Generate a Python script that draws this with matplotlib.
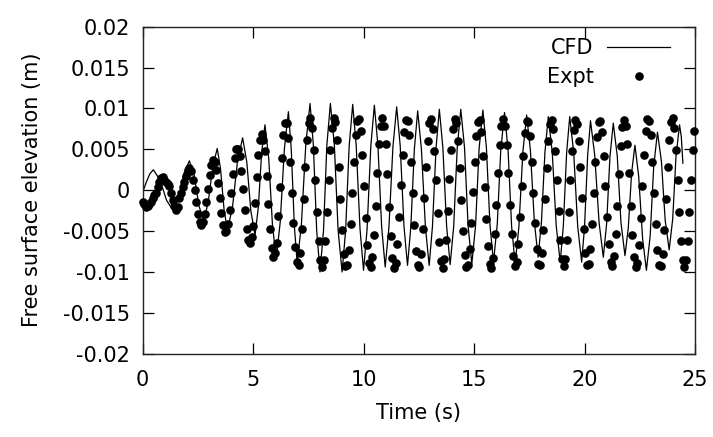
import matplotlib
matplotlib.use('Agg')
import matplotlib.pyplot as plt
import numpy as np

plt.rcParams['font.family'] = ['DejaVu Sans']
plt.rcParams['axes.unicode_minus'] = False

# ---- data (elevations in mm, converted to m for plotting) ----
cfd_time = [
    0.00, 0.16, 0.33, 0.49, 0.79, 1.09, 1.39, 1.63, 1.88, 2.12, 2.34, 2.55, 2.77, 2.97, 3.18,
    3.38, 3.53, 3.69, 3.84, 4.07, 4.30, 4.53, 4.72, 4.90, 5.09, 5.24, 5.39, 5.54, 5.71, 5.88,
    6.05, 6.23, 6.42, 6.60, 6.73, 6.87, 7.00, 7.19, 7.39, 7.58, 7.73, 7.88, 8.03, 8.19, 8.34,
    8.50, 8.68, 8.85, 9.03, 9.19, 9.35, 9.51, 9.67, 9.84, 10.00, 10.16, 10.33, 10.49, 10.65, 10.82,
    10.98, 11.15, 11.33, 11.50, 11.66, 11.83, 11.99, 12.14, 12.30, 12.45, 12.62, 12.80, 12.97, 13.12, 13.28,
    13.43, 13.59, 13.76, 13.92, 14.08, 14.24, 14.40, 14.57, 14.73, 14.90, 15.07, 15.23, 15.40, 15.56, 15.72,
    15.88, 16.05, 16.21, 16.38, 16.54, 16.70, 16.86, 17.03, 17.21, 17.38, 17.55, 17.73, 17.90, 18.05, 18.21,
    18.36, 18.54, 18.72, 18.90, 19.04, 19.19, 19.33, 19.51, 19.69, 19.87, 20.00, 20.14, 20.27, 20.46, 20.66,
    20.85, 21.00, 21.15, 21.30, 21.48, 21.65, 21.83, 21.98, 22.13, 22.28, 22.45, 22.63, 22.80, 22.97, 23.13,
    23.30, 23.48, 23.65, 23.83, 23.99, 24.14, 24.30, 24.38, 24.45]
cfd_mm = [
    -0.3, 0.9, 2.0, 2.5, 1.25, -1.25, -2.5, -1.0, 2.1, 3.6, 1.8, -1.9, -3.7, -1.5, 2.9,
    5.1, 2.6, -2.4, -4.9, -2.1, 3.6, 6.4, 3.4, -2.5, -5.5, -2.1, 4.6, 8.0, 3.9, -4.3,
    -8.4, -3.9, 5.1, 9.6, 5.0, -4.4, -9.0, -4.1, 5.7, 10.6, 5.5, -4.9, -10.0, -4.9, 5.5,
    10.6, 5.5, -4.9, -10.0, -4.9, 5.4, 10.5, 5.4, -4.7, -9.8, -4.8, 5.4, 10.4, 5.5, -4.5,
    -9.4, -4.5, 5.3, 10.2, 5.4, -4.4, -9.2, -4.5, 5.0, 9.7, 5.0, -4.5, -9.2, -4.4, 5.1,
    9.9, 5.2, -4.4, -9.1, -4.4, 5.2, 9.9, 5.2, -4.3, -9.0, -4.3, 5.1, 9.8, 5.2, -4.2,
    -8.8, -4.2, 4.9, 9.5, 4.9, -4.4, -9.0, -4.5, 4.7, 9.2, 4.9, -3.9, -8.2, -3.9, 4.7,
    9.0, 4.6, -4.4, -8.8, -4.4, 4.6, 9.0, 4.6, -4.4, -8.8, -4.5, 4.2, 8.5, 4.3, -4.0,
    -8.2, -4.1, 4.1, 8.2, 4.2, -4.0, -8.0, -4.6, 2.1, 5.5, 1.7, -6.0, -9.8, -5.6, 2.9,
    7.1, 3.5, -3.7, -7.3, -3.5, 4.2, 8.0, 6.5, 3.3]

expt_t0 = 0.0      # s, first sample
expt_dt = 0.0759   # s, sampling interval
expt_mm = [
    -1.4, -1.7, -2.0, -1.9, -1.7, -1.4, -1.0, -0.6, -0.3, 0.4, 1.0, 1.5, 1.6, 1.3, 1.0, 0.7,
    0.5, -0.3, -1.2, -1.9, -2.4, -2.0, -1.0, -0.3, 0.4, 1.0,
    1.7, 2.5, 2.7, 2.3, 1.3, 0.0, -1.5, -2.9, -3.9, -4.3, -3.9, -2.9, -1.5, 0.2, 1.9, 3.1,
    3.7, 3.4, 2.5, 0.9, -0.9, -2.8, -4.3, -5.1, -5.0, -4.1, -2.4, -0.4, 2.0, 3.9, 5.0, 5.1,
    4.2, 2.4, 0.2, -2.4, -4.7, -6.1, -6.5, -5.7, -4.4, -1.6, 1.6, 4.3, 6.2, 6.9,
    6.2, 4.8, 1.7, -1.7, -4.8, -7.1, -8.2, -7.7, -6.4, -3.2, 0.4, 4.0, 6.7, 8.2, 8.2, 6.4,
    3.4, -0.3, -4.0, -7.0, -8.8, -9.2, -7.7, -4.8, -1.1, 2.8, 6.1, 8.2,
    8.8, 7.6, 4.9, 1.3, -2.7, -6.2, -8.5, -9.4, -8.5, -6.2, -2.7, 1.3, 4.9, 7.6, 8.8, 8.3,
    6.1, 2.8, -1.1, -4.9, -7.8, -9.3, -9.1, -7.3, -4.1, -0.3, 3.5, 6.7, 8.5, 8.7, 7.2, 4.3,
    0.5, -3.4, -6.7, -8.9, -9.4, -8.2, -5.5, -1.9, 2.1, 5.6, 7.9, 8.8,
    7.9, 5.7, 2.0, -2.0, -5.6, -8.3, -9.5, -8.9, -6.6, -3.3, 0.6, 4.3, 7.1, 8.6, 8.5, 6.8,
    3.4, -0.4, -4.2, -7.4, -9.2, -9.4, -7.8, -4.8, -1.0, 2.8, 6.0, 8.2, 8.7, 7.5, 4.8, 1.2,
    -2.8, -6.3, -8.6, -9.5, -8.4, -6.1, -2.6, 1.4, 4.9, 7.5, 8.7, 8.2, 6.0, 2.7, -1.2, -5.0,
    -7.9, -9.4, -9.2, -7.2, -4.0, -0.2, 3.5, 6.6, 8.4, 8.6, 7.1, 4.2, 0.4, -3.5, -6.8, -9.0,
    -9.5, -8.3, -5.4, -1.8, 2.1, 5.5, 7.8, 8.7,
    7.8, 5.5, 2.1, -1.8, -5.4, -8.1, -9.3, -8.8, -6.6, -3.3, 0.5, 4.2, 7.0, 8.5, 8.4, 6.6,
    3.5, -0.3, -4.0, -7.2, -9.0, -9.2, -7.7, -4.9, -1.1, 2.7, 6.0, 8.1, 8.6, 7.5, 4.8, 1.3,
    -2.6, -6.1, -8.4, -9.3, -8.4, -6.1, -2.7, 1.2, 4.8, 7.4, 8.6, 8.1, 6.0, 2.8, -1.0, -4.8,
    -7.7, -9.2, -9.0, -7.2, -4.1, -0.3, 3.4, 6.5, 8.3, 8.5, 7.1, 4.2, 0.5, -3.3, -6.6, -8.8,
    -9.3, -8.1, -5.4, -1.9, 2.0, 5.4, 7.7, 8.6,
    7.8, 5.6, 2.1, -1.9, -5.5, -8.2, -9.4, -8.9, -6.7, -3.4, 0.5, 4.3, 7.2, 8.7, 8.5, 6.7,
    3.5, -0.3, -4.1, -7.3, -9.1, -9.3, -7.8, -4.9, -1.1, 2.8, 6.1, 8.3, 8.8, 7.6, 4.9, 1.3,
    -2.7, -6.2, -8.5, -9.4, -8.5, -6.2, -2.7, 1.3, 4.9, 7.3]

x_ticks = [0, 5, 10, 15, 20, 25]
y_ticks = [-0.02, -0.015, -0.01, -0.005, 0, 0.005, 0.01, 0.015, 0.02]
x_label = 'Time (s)'
y_label = 'Free surface elevation (m)'

# ---- figure ----
fig = plt.figure(figsize=(7.13, 4.37), dpi=100)
ax = fig.add_axes([0.1999, 0.1906, 0.7749, 0.7483])

cfd_m = np.array(cfd_mm) / 1000.0
expt_m = np.array(expt_mm) / 1000.0
expt_time = expt_t0 + expt_dt * np.arange(len(expt_mm))

ax.plot(cfd_time, cfd_m, color='black', lw=0.9, label='CFD', zorder=2)
ax.plot(expt_time, expt_m, ls='none', marker='o', ms=6.2, color='black',
        markeredgewidth=0, label='Expt', zorder=3, clip_on=False)

ax.set_xlim(0, 25)
ax.set_ylim(-0.02, 0.02)
ax.set_xticks(x_ticks)
ax.set_xticklabels(['%g' % v for v in x_ticks])
ax.set_yticks(y_ticks)
ax.set_yticklabels(['%g' % v for v in y_ticks])
ax.tick_params(direction='in', length=8, width=0.9, top=True, right=True,
               labelsize=15, colors='black')
ax.tick_params(axis='y', pad=9)
ax.tick_params(axis='x', pad=12)
for s in ax.spines.values():
    s.set_linewidth(1.0)
    s.set_color('#222222')

ax.set_xlabel(x_label, fontsize=15, labelpad=9)
ax.set_ylabel(y_label, fontsize=15, labelpad=15)

leg = ax.legend(loc='upper right', bbox_to_anchor=(0.962, 0.978), frameon=False,
                markerfirst=False, fontsize=15, handlelength=3.0, handletextpad=0.65,
                labelspacing=0.45, borderaxespad=0.0, borderpad=0.2)

fig.savefig('out.png', dpi=100)
